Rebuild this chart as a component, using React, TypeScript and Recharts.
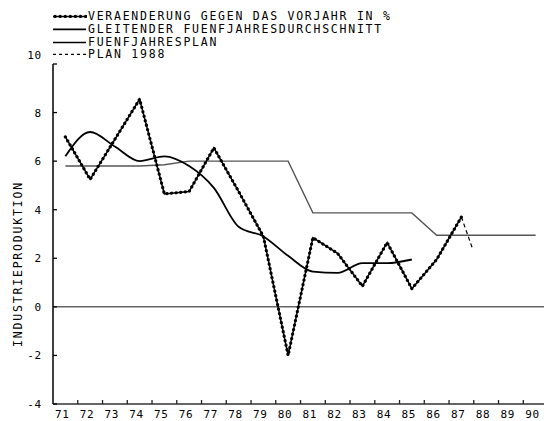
import React from "react";
import {
  LineChart,
  Line,
  XAxis,
  YAxis,
  ReferenceLine,
  Legend,
} from "recharts";

const years = [71, 72, 73, 74, 75, 76, 77, 78, 79, 80, 81, 82, 83, 84, 85, 86, 87, 88, 89, 90];

// Veraenderung gegen das Vorjahr in %
const change = [7.0, 5.25, 6.9, 8.55, 4.65, 4.75, 6.55, 4.75, 2.9, -2.0, 2.85, 2.2, 0.85, 2.65, 0.75, 1.95, 3.7, null, null, null];

// gleitender Fuenfjahresdurchschnitt
const average = [6.2, 7.2, 6.6, 6.0, 6.2, 5.8, 4.9, 3.3, 2.9, 2.1, 1.45, 1.4, 1.8, 1.8, 1.95, null, null, null, null, null];

// Fuenfjahresplan
const plan = [5.8, 5.8, 5.8, 5.8, 5.85, 6.0, 6.0, 6.0, 6.0, 6.0, 3.87, 3.87, 3.87, 3.87, 3.87, 2.95, 2.95, 2.95, 2.95, 2.95];

// Plan 1988
const plan88Years = [87, 87.45];
const plan88Values = [3.7, 2.4];

const yTicks = [-4, -2, 0, 2, 4, 6, 8, 10];

const legendLabels = [
  "VERAENDERUNG GEGEN DAS VORJAHR IN %",
  "GLEITENDER FUENFJAHRESDURCHSCHNITT",
  "FUENFJAHRESPLAN",
  "PLAN 1988",
];

const data = years.map((year, i) => ({
  year,
  change: change[i],
  average: average[i],
  plan: plan[i],
}));

const plan88Data = plan88Years.map((year, i) => ({ year, plan88: plan88Values[i] }));

const FONT = "'DejaVu Sans Mono', monospace";

function XTick({ x, y, payload }: any) {
  return (
    <g>
      <line x1={x + 12.4} x2={x + 12.4} y1={y} y2={y - 4} stroke="#222" strokeWidth={1.3} />
      <text
        x={x - 3}
        y={y + 13.5}
        textAnchor="middle"
        fontFamily={FONT}
        fontSize={11}
        letterSpacing={0.8}
        fill="#000"
      >
        {payload.value}
      </text>
    </g>
  );
}

function YTick({ x, y, payload }: any) {
  const dy = payload.value === 10 ? -9 : 0;
  return (
    <g>
      <line x1={x} x2={x + 4} y1={y} y2={y} stroke="#000" strokeWidth={1.3} />
      <text
        x={x - 11}
        y={y + 4 + dy}
        textAnchor="end"
        fontFamily={FONT}
        fontSize={11}
        letterSpacing={0.8}
        fill="#000"
      >
        {payload.value}
      </text>
    </g>
  );
}

function YLabel() {
  return (
    <text
      x={18}
      y={264}
      transform="rotate(-90, 18, 264)"
      textAnchor="middle"
      dominantBaseline="central"
      fontFamily={FONT}
      fontSize={11.5}
      letterSpacing={1.8}
      fill="#000"
    >
      INDUSTRIEPRODUKTION
    </text>
  );
}

function LegendSample({ index }: { index: number }) {
  if (index === 0) {
    return (
      <svg width={35} height={12.8}>
        <line x1={1} x2={34} y1={6.4} y2={6.4} stroke="#000" strokeWidth={1.5} />
        <line
          x1={3}
          x2={34}
          y1={6.4}
          y2={6.4}
          stroke="#000"
          strokeWidth={3.2}
          strokeLinecap="round"
          strokeDasharray="0.1 5"
        />
      </svg>
    );
  }
  if (index === 3) {
    return (
      <svg width={35} height={12.8}>
        <line x1={1} x2={34} y1={6.4} y2={6.4} stroke="#000" strokeWidth={1.2} strokeDasharray="3 3" />
      </svg>
    );
  }
  return (
    <svg width={35} height={12.8}>
      <line x1={1} x2={34} y1={6.4} y2={6.4} stroke="#000" strokeWidth={index === 1 ? 1.8 : 1.5} />
    </svg>
  );
}

function LegendContent() {
  return (
    <div>
      {legendLabels.map((label, i) => (
        <div key={label} style={{ display: "flex", alignItems: "center", height: 12.8 }}>
          <LegendSample index={i} />
          <span
            style={{
              fontFamily: FONT,
              fontSize: 11.5,
              letterSpacing: 1.75,
              color: "#000",
              marginLeft: 1,
              whiteSpace: "nowrap",
              lineHeight: "12.8px",
            }}
          >
            {label}
          </span>
        </div>
      ))}
    </div>
  );
}

export default function App() {
  return (
    <div
      style={{
        position: "absolute",
        left: 0,
        top: 0,
        width: 544,
        height: 421,
        overflow: "hidden",
        background: "#fff",
      }}
    >
      <LineChart
        width={548}
        height={421}
        data={data}
        margin={{ top: 64, right: 0, bottom: 0, left: 0 }}
      >
        <XAxis
          dataKey="year"
          type="number"
          domain={[70.5, 90.5]}
          ticks={years}
          interval={0}
          tickLine={false}
          tickSize={0}
          tickMargin={0}
          height={17}
          axisLine={{ stroke: "#333", strokeWidth: 1.5 }}
          tick={<XTick />}
        />
        <YAxis
          type="number"
          domain={[-4, 10]}
          ticks={yTicks}
          interval={0}
          width={53}
          tickLine={false}
          tickSize={0}
          tickMargin={0}
          axisLine={{ stroke: "#000", strokeWidth: 1.5 }}
          tick={<YTick />}
          label={<YLabel />}
        />
        <Legend
          layout="vertical"
          align="center"
          verticalAlign="middle"
          content={<LegendContent />}
          wrapperStyle={{ top: 10, left: 52, width: 480, height: 52 }}
        />
        <ReferenceLine y={0} stroke="#666" strokeWidth={1.5} />
        <Line
          dataKey="plan"
          type="linear"
          stroke="#555"
          strokeWidth={1.4}
          dot={false}
          activeDot={false}
          isAnimationActive={false}
        />
        <Line
          dataKey="average"
          type="monotone"
          stroke="#000"
          strokeWidth={1.8}
          dot={false}
          activeDot={false}
          isAnimationActive={false}
        />
        <Line
          dataKey="change"
          type="linear"
          stroke="#000"
          strokeWidth={1.5}
          dot={false}
          activeDot={false}
          isAnimationActive={false}
        />
        <Line
          dataKey="change"
          type="linear"
          stroke="#000"
          strokeWidth={3.2}
          strokeLinecap="round"
          strokeDasharray="0.1 4.5"
          dot={false}
          activeDot={false}
          legendType="none"
          isAnimationActive={false}
        />
        <Line
          data={plan88Data}
          dataKey="plan88"
          type="linear"
          stroke="#000"
          strokeWidth={1.2}
          strokeDasharray="4 3"
          dot={false}
          activeDot={false}
          isAnimationActive={false}
        />
      </LineChart>
    </div>
  );
}
